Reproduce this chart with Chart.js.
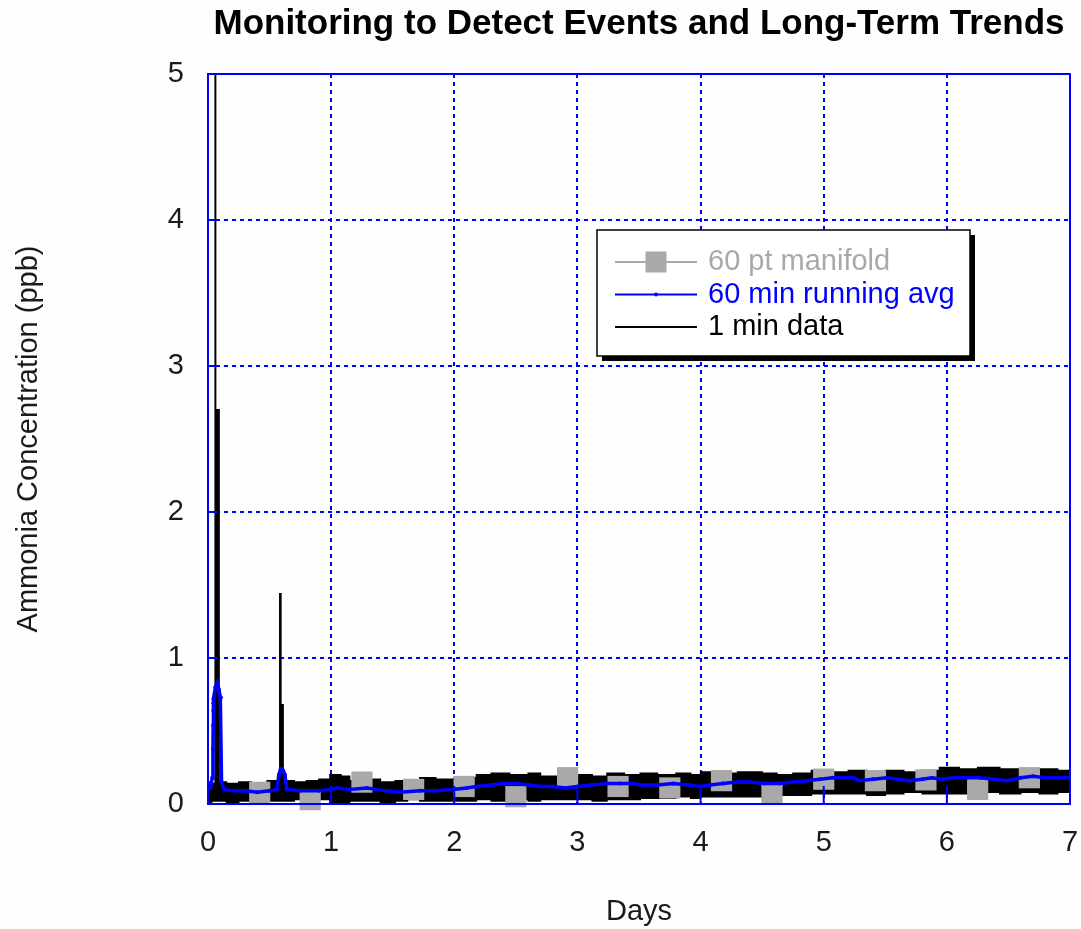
<!DOCTYPE html>
<html>
<head>
<meta charset="utf-8">
<title>Monitoring to Detect Events and Long-Term Trends</title>
<script src="https://cdn.jsdelivr.net/npm/chart.js@4.4.1/dist/chart.umd.min.js"></script>
<style>
    html, body { margin: 0; padding: 0; background: #fefefe; overflow: hidden; }
    canvas { display: block; }
</style>
</head>
<body>
<canvas id="chart" width="1081" height="929"></canvas>
<script>
// 60 pt manifold, one sample every 10 hours
const manifoldDays = [0.42, 0.83, 1.25, 1.67, 2.08, 2.5, 2.92, 3.33, 3.75, 4.17, 4.58, 5.0, 5.42, 5.83, 6.25, 6.67]
const manifoldPpb  = [0.08, 0.03, 0.15, 0.10, 0.12, 0.05, 0.18, 0.12, 0.11, 0.16, 0.07, 0.17, 0.16, 0.165, 0.10, 0.18]

// 60 min running average
const avgDays = [
    0, 0.02, 0.035, 0.04, 0.042, 0.043, 0.044, 0.045, 0.06, 0.075,
    0.09, 0.1, 0.105, 0.11, 0.13, 0.2, 0.3, 0.4, 0.5, 0.56,
    0.575, 0.59, 0.61, 0.625, 0.64, 0.75, 0.9, 0.99, 1.05, 1.15,
    1.29, 1.45, 1.56, 1.72, 1.85, 1.99, 2.1, 2.18, 2.3, 2.39,
    2.5, 2.61, 2.7, 2.8, 2.9, 3.0, 3.12, 3.24, 3.35, 3.45,
    3.51, 3.65, 3.78, 3.9, 3.99, 4.08, 4.18, 4.3, 4.4, 4.52,
    4.64, 4.75, 4.86, 4.97, 5.07, 5.17, 5.24, 5.29, 5.4, 5.51,
    5.6, 5.7, 5.8, 5.88, 5.96, 6.05, 6.16, 6.27, 6.38, 6.49,
    6.6, 6.7, 6.8, 6.9, 7.0
]
const avgPpb = [
    0.10, 0.11, 0.18, 0.38, 0.54, 0.64, 0.69, 0.72, 0.80, 0.83,
    0.78, 0.73, 0.73, 0.15, 0.10, 0.09, 0.09, 0.08, 0.09, 0.10,
    0.20, 0.24, 0.23, 0.20, 0.10, 0.09, 0.09, 0.10, 0.11, 0.10,
    0.11, 0.09, 0.08, 0.09, 0.09, 0.10, 0.11, 0.12, 0.13, 0.14,
    0.14, 0.13, 0.12, 0.12, 0.11, 0.12, 0.13, 0.14, 0.14, 0.14,
    0.13, 0.13, 0.14, 0.13, 0.12, 0.13, 0.14, 0.15, 0.15, 0.14,
    0.14, 0.15, 0.16, 0.17, 0.18, 0.18, 0.18, 0.16, 0.17, 0.18,
    0.17, 0.16, 0.17, 0.18, 0.17, 0.18, 0.18, 0.18, 0.17, 0.16,
    0.18, 0.19, 0.18, 0.18, 0.18
]

// 1 min data, read as the highs and lows of the dense band
const minuteDays = [
    0, 0.03, 0.058, 0.062, 0.09, 0.15, 0.25, 0.35, 0.48, 0.583,
    0.592, 0.61, 0.7, 0.8, 0.9, 0.99, 1.08, 1.15, 1.3, 1.4,
    1.52, 1.62, 1.72, 1.85, 2.0, 2.18, 2.3, 2.45, 2.6, 2.7,
    2.83, 3.0, 3.12, 3.24, 3.38, 3.51, 3.65, 3.8, 3.92, 4.0,
    4.15, 4.3, 4.5, 4.62, 4.75, 4.9, 5.05, 5.2, 5.35, 5.5,
    5.65, 5.8, 5.94, 6.1, 6.25, 6.43, 6.6, 6.75, 6.9, 7.0
]
const minuteHigh = [
    0.15, 0.14, 5.0, 2.7, 0.15, 0.14, 0.15, 0.13, 0.16, 1.44,
    0.68, 0.16, 0.15, 0.16, 0.17, 0.20, 0.19, 0.16, 0.17, 0.15,
    0.16, 0.15, 0.18, 0.17, 0.18, 0.20, 0.21, 0.20, 0.21, 0.19,
    0.18, 0.20, 0.19, 0.21, 0.20, 0.21, 0.20, 0.21, 0.20, 0.22,
    0.21, 0.22, 0.21, 0.20, 0.21, 0.23, 0.22, 0.23, 0.22, 0.23,
    0.22, 0.23, 0.25, 0.24, 0.25, 0.24, 0.23, 0.24, 0.23, 0.23
]
const minuteLow = [
    0.01, 0.02, 0.02, 0.02, 0.02, 0.01, 0.02, 0.01, 0.02, 0.02,
    0.02, 0.02, 0.03, 0.02, 0.03, 0.00, 0.01, 0.02, 0.02, 0.01,
    0.02, 0.03, 0.02, 0.02, 0.02, 0.03, 0.02, 0.03, 0.02, 0.03,
    0.03, 0.03, 0.02, 0.03, 0.03, 0.04, 0.04, 0.05, 0.04, 0.05,
    0.05, 0.05, 0.06, 0.06, 0.06, 0.07, 0.07, 0.07, 0.06, 0.07,
    0.08, 0.07, 0.07, 0.07, 0.08, 0.07, 0.08, 0.07, 0.08, 0.08
]

const dayTicks = [0, 1, 2, 3, 4, 5, 6, 7]
const ppbTicks = [0, 1, 2, 3, 4, 5]

const FONT = '"Liberation Sans", Arial, Helvetica, sans-serif'
const BLUE = '#0000ff'
const GRAY = '#a9a9a9'

const toPoints = (xs, ys) => xs.map((x, i) => ({x: x, y: ys[i]}))

// blue box round the plot and the short solid ticks pointing inwards
const plotFrame = {
    id: 'plotFrame',
    afterDatasetsDraw: (chart) => {
        const {ctx, chartArea: a, scales} = chart
        ctx.save()
        ctx.strokeStyle = BLUE
        ctx.lineWidth = 2
        ctx.strokeRect(a.left, a.top, a.right - a.left, a.bottom - a.top)
        ctx.beginPath()
        dayTicks.forEach(d => {
            const x = scales.x.getPixelForValue(d)
            ctx.moveTo(x, a.bottom)
            ctx.lineTo(x, a.bottom - 18)
        })
        ppbTicks.forEach(v => {
            const y = scales.y.getPixelForValue(v)
            ctx.moveTo(a.left, y)
            ctx.lineTo(a.left + 10, y)
        })
        ctx.stroke()
        ctx.restore()
    }
}

// boxed legend with a drop shadow inside the plot
const boxLegend = {
    id: 'boxLegend',
    afterDraw: (chart) => {
        const ctx = chart.ctx
        const left = 597, top = 230, width = 373, height = 126
        ctx.save()
        ctx.fillStyle = '#000'
        ctx.fillRect(left + 5, top + 5, width, height)
        ctx.fillStyle = '#fff'
        ctx.fillRect(left, top, width, height)
        ctx.strokeStyle = '#000'
        ctx.lineWidth = 1.5
        ctx.strokeRect(left, top, width, height)

        ctx.font = `29px ${FONT}`
        ctx.textBaseline = 'middle'
        ctx.textAlign = 'left'
        chart.data.datasets.filter(d => d.label).forEach((d, i) => {
            const y = top + 32 + i * 32.5
            const x0 = left + 18, x1 = left + 100, mid = (x0 + x1) / 2
            ctx.strokeStyle = d.borderColor
            ctx.lineWidth = 2
            ctx.beginPath()
            ctx.moveTo(x0, y)
            ctx.lineTo(x1, y)
            ctx.stroke()
            if (d.pointStyle === 'rect') {
                ctx.fillStyle = d.backgroundColor
                ctx.fillRect(mid - 10.5, y - 10.5, 21, 21)
            } else if (d.pointRadius > 0) {
                ctx.fillStyle = d.borderColor
                ctx.beginPath()
                ctx.arc(mid, y, 2, 0, Math.PI * 2)
                ctx.fill()
            }
            ctx.fillStyle = d.borderColor
            ctx.fillText(d.label, left + 111, y)
        })
        ctx.restore()
    }
}

Chart.defaults.font.family = FONT
Chart.defaults.color = '#1a1a1a'

new Chart(document.getElementById('chart'), {
    type: 'line',
    data: {
        datasets: [
            {
                label: '60 pt manifold',
                data: toPoints(manifoldDays, manifoldPpb),
                showLine: false,
                borderColor: GRAY,
                backgroundColor: GRAY,
                pointStyle: 'rect',
                pointRadius: 15,
                pointBorderWidth: 0,
                clip: false,
                order: 1
            },
            {
                label: '60 min running avg',
                data: toPoints(avgDays, avgPpb),
                borderColor: BLUE,
                backgroundColor: BLUE,
                borderWidth: 3.5,
                pointRadius: 2,
                pointBorderWidth: 0,
                tension: 0,
                order: 0
            },
            {
                label: '1 min data',
                data: toPoints(minuteDays, minuteHigh),
                borderColor: '#000',
                backgroundColor: '#000',
                borderWidth: 1.5,
                stepped: true,
                fill: '+1',
                pointRadius: 0,
                order: 2
            },
            {
                data: toPoints(minuteDays, minuteLow),
                borderColor: '#000',
                borderWidth: 1.5,
                stepped: true,
                pointRadius: 0,
                order: 3
            }
        ]
    },
    options: {
        responsive: false,
        animation: false,
        layout: {autoPadding: false, padding: {left: 0, top: 0, right: 11, bottom: 0}},
        plugins: {
            legend: {display: false},
            tooltip: {enabled: false},
            title: {
                display: true,
                text: 'Monitoring to Detect Events and Long-Term Trends',
                fullSize: false,
                color: '#000',
                font: {size: 35, weight: 'bold', lineHeight: 1.2},
                padding: {top: 3, bottom: 29}
            }
        },
        scales: {
            x: {
                type: 'linear',
                min: 0,
                max: 7,
                afterBuildTicks: (scale) => { scale.ticks = dayTicks.map(v => ({value: v})) },
                afterFit: (scale) => {
                    scale.height = 125
                    scale.paddingLeft = 0
                    scale.paddingRight = 0
                },
                ticks: {font: {size: 29}, padding: 22, autoSkip: false, maxRotation: 0},
                grid: {color: BLUE, lineWidth: 2, drawTicks: false},
                border: {display: false, dash: [4, 4]},
                title: {display: true, text: 'Days', font: {size: 29}, padding: {top: 0, bottom: 0}}
            },
            y: {
                type: 'linear',
                min: 0,
                max: 5,
                afterBuildTicks: (scale) => { scale.ticks = ppbTicks.map(v => ({value: v})) },
                afterFit: (scale) => { scale.width = 208 },
                ticks: {font: {size: 29}, padding: 24},
                grid: {color: BLUE, lineWidth: 2, drawTicks: false},
                border: {display: false, dash: [4, 4]},
                title: {display: true, text: 'Ammonia Concentration (ppb)', font: {size: 29}, padding: {top: 12, bottom: 0}}
            }
        }
    },
    plugins: [plotFrame, boxLegend]
})
</script>
</body>
</html>
